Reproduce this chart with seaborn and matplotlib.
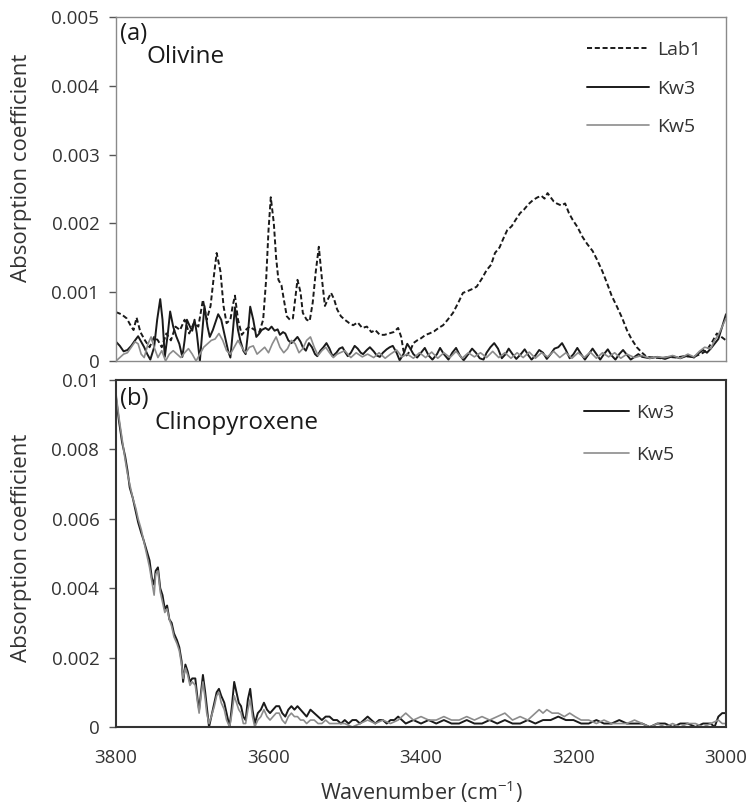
import numpy as np
import pandas as pd
import matplotlib
matplotlib.use("Agg")
import matplotlib.pyplot as plt
import seaborn as sns

# ---------------- data ----------------
lab1_wn = [3800, 3793, 3786, 3780, 3777, 3773, 3768, 3762, 3756, 3750, 3745, 3740, 3734, 3728, 3722,
           3716, 3710, 3704, 3698, 3692, 3686, 3681, 3676, 3672, 3668, 3663, 3659, 3655, 3650, 3647,
           3644, 3640, 3635, 3630, 3625, 3618, 3612, 3607, 3603, 3600, 3597, 3593, 3590, 3587, 3583,
           3580, 3576, 3572, 3568, 3565, 3562, 3558, 3555, 3550, 3546, 3542, 3538, 3534, 3530, 3526,
           3522, 3518, 3514, 3510, 3505, 3500, 3494, 3489, 3483, 3477, 3471, 3465, 3460, 3454, 3448,
           3442, 3436, 3430, 3426, 3423, 3419, 3414, 3410, 3405, 3400, 3394, 3389, 3383, 3377, 3371,
           3365, 3358, 3351, 3345, 3338, 3332, 3327, 3320, 3314, 3308, 3303, 3297, 3292, 3287, 3281,
           3276, 3270, 3265, 3259, 3253, 3247, 3242, 3238, 3234, 3230, 3226, 3222, 3216, 3211, 3206,
           3201, 3195, 3188, 3182, 3175, 3169, 3162, 3156, 3150, 3143, 3136, 3130, 3124, 3117, 3110,
           3104, 3095, 3085, 3075, 3065, 3055, 3045, 3038, 3030, 3025, 3018, 3012, 3006, 3000]
lab1_abs = [0.00071, 0.00068, 0.00062, 0.00050, 0.00045, 0.00063, 0.00042, 0.00030, 0.00020, 0.00035,
            0.00030, 0.00020, 0.00040, 0.00030, 0.00050, 0.00045, 0.00060, 0.00040, 0.00055, 0.00050,
            0.00089, 0.00060, 0.00080, 0.00120, 0.00157, 0.00130, 0.00080, 0.00055, 0.00060, 0.00080,
            0.00095, 0.00060, 0.00038, 0.00045, 0.00050, 0.00045, 0.00042, 0.00060, 0.00120, 0.00190,
            0.00238, 0.00200, 0.00150, 0.00118, 0.00110, 0.00090, 0.00065, 0.00060, 0.00062, 0.00090,
            0.00118, 0.00100, 0.00070, 0.00060, 0.00058, 0.00085, 0.00130, 0.00166, 0.00120, 0.00080,
            0.00090, 0.00099, 0.00090, 0.00075, 0.00065, 0.00060, 0.00055, 0.00052, 0.00056, 0.00048,
            0.00050, 0.00042, 0.00045, 0.00038, 0.00038, 0.00040, 0.00042, 0.00048, 0.00035, 0.00015,
            0.00008, 0.00015, 0.00026, 0.00030, 0.00033, 0.00038, 0.00040, 0.00043, 0.00048, 0.00052,
            0.00060, 0.00070, 0.00085, 0.00099, 0.00102, 0.00105, 0.00108, 0.00120, 0.00132, 0.00140,
            0.00157, 0.00165, 0.00178, 0.00190, 0.00196, 0.00205, 0.00215, 0.00220, 0.00228, 0.00234,
            0.00238, 0.00240, 0.00236, 0.00244, 0.00238, 0.00232, 0.00229, 0.00226, 0.00229, 0.00215,
            0.00205, 0.00195, 0.00180, 0.00170, 0.00160, 0.00147, 0.00130, 0.00113, 0.00095, 0.00079,
            0.00062, 0.00045, 0.00032, 0.00020, 0.00012, 0.00006, 0.00005, 0.00004, 0.00006, 0.00005,
            0.00007, 0.00006, 0.00008, 0.00012, 0.00016, 0.00028, 0.00040, 0.00035, 0.00030]

ol_kw3_wn = [3800, 3795, 3790, 3785, 3780, 3775, 3771, 3767, 3763, 3759, 3755, 3750, 3746, 3742, 3739,
             3736, 3732, 3729, 3725, 3721, 3717, 3713, 3710, 3707, 3703, 3700, 3697, 3694, 3690, 3687,
             3684, 3680, 3677, 3673, 3670, 3666, 3662, 3657, 3653, 3650, 3647, 3644, 3640, 3637, 3633,
             3630, 3627, 3624, 3620, 3616, 3612, 3609, 3604, 3600, 3596, 3592, 3588, 3585, 3581, 3578,
             3574, 3570, 3566, 3562, 3558, 3555, 3551, 3547, 3543, 3539, 3536, 3532, 3528, 3524, 3520,
             3516, 3511, 3507, 3503, 3499, 3496, 3492, 3487, 3483, 3479, 3476, 3471, 3467, 3462, 3458,
             3454, 3450, 3445, 3441, 3437, 3432, 3428, 3423, 3418, 3414, 3410, 3405, 3400, 3395, 3390,
             3385, 3379, 3375, 3370, 3364, 3359, 3354, 3349, 3344, 3338, 3333, 3328, 3323, 3318, 3314,
             3309, 3304, 3299, 3294, 3289, 3285, 3280, 3275, 3269, 3264, 3259, 3255, 3250, 3245, 3240,
             3235, 3230, 3225, 3220, 3215, 3210, 3205, 3200, 3195, 3190, 3185, 3180, 3175, 3170, 3165,
             3160, 3155, 3150, 3145, 3140, 3135, 3130, 3125, 3120, 3115, 3110, 3100, 3090, 3080, 3070,
             3060, 3050, 3042, 3035, 3030, 3025, 3020, 3015, 3010, 3005, 3000]
ol_kw3_abs = [0.00028, 0.00022, 0.00014, 0.00016, 0.00022, 0.00030, 0.00036, 0.00028, 0.00020, 0.00010,
              0.00002, 0.00020, 0.00060, 0.00090, 0.00060, 0.00006, 0.00040, 0.00072, 0.00050, 0.00036,
              0.00025, 0.00006, 0.00030, 0.00060, 0.00050, 0.00044, 0.00060, 0.00040, 0.00000, 0.00040,
              0.00080, 0.00050, 0.00035, 0.00045, 0.00055, 0.00068, 0.00060, 0.00035, 0.00015, 0.00005,
              0.00040, 0.00078, 0.00045, 0.00030, 0.00015, 0.00010, 0.00040, 0.00079, 0.00060, 0.00035,
              0.00040, 0.00045, 0.00048, 0.00045, 0.00050, 0.00044, 0.00046, 0.00038, 0.00042, 0.00040,
              0.00030, 0.00026, 0.00030, 0.00035, 0.00028, 0.00020, 0.00015, 0.00026, 0.00020, 0.00010,
              0.00007, 0.00015, 0.00020, 0.00026, 0.00018, 0.00007, 0.00012, 0.00018, 0.00020, 0.00012,
              0.00007, 0.00012, 0.00022, 0.00018, 0.00012, 0.00010, 0.00016, 0.00020, 0.00014, 0.00008,
              0.00006, 0.00012, 0.00017, 0.00020, 0.00022, 0.00012, 0.00001, 0.00010, 0.00025, 0.00018,
              0.00010, 0.00005, 0.00012, 0.00019, 0.00008, 0.00002, 0.00010, 0.00019, 0.00010, 0.00002,
              0.00012, 0.00019, 0.00008, 0.00001, 0.00010, 0.00018, 0.00012, 0.00004, 0.00002, 0.00012,
              0.00020, 0.00026, 0.00018, 0.00004, 0.00010, 0.00018, 0.00010, 0.00003, 0.00010, 0.00017,
              0.00008, 0.00002, 0.00008, 0.00016, 0.00012, 0.00003, 0.00010, 0.00018, 0.00020, 0.00026,
              0.00016, 0.00004, 0.00010, 0.00019, 0.00010, 0.00002, 0.00010, 0.00018, 0.00010, 0.00002,
              0.00010, 0.00017, 0.00008, 0.00002, 0.00010, 0.00016, 0.00009, 0.00002, 0.00006, 0.00010,
              0.00006, 0.00004, 0.00006, 0.00003, 0.00007, 0.00004, 0.00008, 0.00005, 0.00012, 0.00016,
              0.00012, 0.00018, 0.00025, 0.00032, 0.00050, 0.00068]

ol_kw5_wn = [3800, 3795, 3790, 3785, 3780, 3775, 3771, 3767, 3763, 3758, 3754, 3750, 3745, 3740, 3735,
             3730, 3725, 3720, 3715, 3710, 3705, 3700, 3695, 3690, 3685, 3680, 3675, 3670, 3665, 3660,
             3655, 3650, 3645, 3640, 3635, 3630, 3625, 3620, 3615, 3610, 3605, 3600, 3595, 3590, 3585,
             3580, 3575, 3570, 3565, 3560, 3555, 3550, 3545, 3540, 3535, 3530, 3525, 3520, 3515, 3510,
             3500, 3492, 3485, 3477, 3470, 3462, 3455, 3447, 3440, 3432, 3425, 3418, 3410, 3402, 3394,
             3386, 3378, 3370, 3362, 3354, 3346, 3338, 3330, 3322, 3314, 3306, 3298, 3290, 3282, 3274,
             3266, 3258, 3250, 3242, 3234, 3226, 3218, 3210, 3202, 3194, 3186, 3178, 3170, 3162, 3154,
             3146, 3138, 3130, 3120, 3110, 3100, 3090, 3080, 3070, 3060, 3050, 3042, 3035, 3028, 3020,
             3015, 3010, 3005, 3000]
ol_kw5_abs = [0.00000, 0.00005, 0.00010, 0.00012, 0.00020, 0.00028, 0.00025, 0.00010, 0.00005, 0.00025,
              0.00035, 0.00020, 0.00005, 0.00015, 0.00000, 0.00010, 0.00015, 0.00010, 0.00005, 0.00012,
              0.00018, 0.00010, 0.00000, 0.00010, 0.00020, 0.00025, 0.00030, 0.00032, 0.00040, 0.00030,
              0.00015, 0.00010, 0.00020, 0.00030, 0.00020, 0.00012, 0.00020, 0.00022, 0.00010, 0.00015,
              0.00020, 0.00012, 0.00025, 0.00035, 0.00020, 0.00012, 0.00018, 0.00030, 0.00025, 0.00012,
              0.00018, 0.00030, 0.00035, 0.00020, 0.00008, 0.00015, 0.00020, 0.00012, 0.00005, 0.00010,
              0.00015, 0.00005, 0.00012, 0.00006, 0.00010, 0.00005, 0.00012, 0.00004, 0.00010, 0.00016,
              0.00006, 0.00010, 0.00004, 0.00012, 0.00005, 0.00013, 0.00004, 0.00012, 0.00005, 0.00014,
              0.00004, 0.00012, 0.00006, 0.00012, 0.00005, 0.00014, 0.00005, 0.00012, 0.00004, 0.00012,
              0.00005, 0.00013, 0.00004, 0.00012, 0.00006, 0.00014, 0.00005, 0.00012, 0.00004, 0.00012,
              0.00005, 0.00013, 0.00004, 0.00012, 0.00006, 0.00012, 0.00004, 0.00010, 0.00005, 0.00008,
              0.00004, 0.00006, 0.00005, 0.00008, 0.00004, 0.00010, 0.00006, 0.00014, 0.00020, 0.00018,
              0.00030, 0.00038, 0.00050, 0.00062]

cpx_kw3_wn = [3800, 3796, 3792, 3788, 3785, 3782, 3778, 3774, 3771, 3767, 3764, 3760, 3756, 3753, 3750,
              3748, 3745, 3742, 3739, 3736, 3733, 3730, 3727, 3724, 3720, 3717, 3714, 3712, 3709, 3706,
              3703, 3700, 3696, 3693, 3691, 3688, 3686, 3683, 3681, 3678, 3675, 3671, 3668, 3665, 3662,
              3658, 3655, 3651, 3648, 3645, 3642, 3639, 3636, 3633, 3630, 3627, 3624, 3621, 3618, 3614,
              3610, 3606, 3602, 3598, 3594, 3590, 3586, 3582, 3578, 3574, 3570, 3566, 3562, 3558, 3554,
              3550, 3545, 3540, 3535, 3530, 3525, 3520, 3515, 3510, 3505, 3500, 3495, 3490, 3485, 3480,
              3475, 3470, 3465, 3460, 3455, 3450, 3445, 3440, 3435, 3430, 3425, 3420, 3410, 3400, 3390,
              3380, 3370, 3360, 3350, 3340, 3330, 3320, 3310, 3300, 3290, 3280, 3270, 3260, 3250, 3240,
              3230, 3220, 3210, 3200, 3190, 3180, 3170, 3160, 3150, 3140, 3130, 3120, 3110, 3100, 3090,
              3080, 3070, 3060, 3050, 3040, 3030, 3020, 3015, 3010, 3005, 3000]
cpx_kw3_abs = [0.0095, 0.0088, 0.0082, 0.0078, 0.0074, 0.0069, 0.0066, 0.0062, 0.0059, 0.0056, 0.0054,
               0.0051, 0.0048, 0.0043, 0.0041, 0.0045, 0.0046, 0.0040, 0.0038, 0.0034, 0.0035, 0.0031,
               0.0030, 0.0027, 0.0025, 0.0023, 0.0019, 0.0013, 0.0018, 0.0016, 0.0013, 0.0014, 0.0014,
               0.0008, 0.0005, 0.0011, 0.0015, 0.0010, 0.0006, 0.0000, 0.0003, 0.0007, 0.0010, 0.0011,
               0.0009, 0.0007, 0.0004, 0.0000, 0.0006, 0.0013, 0.0010, 0.0007, 0.0006, 0.0003, 0.0002,
               0.0008, 0.0011, 0.0005, 0.0001, 0.0004, 0.0005, 0.0007, 0.0005, 0.0004, 0.0005, 0.0006,
               0.0006, 0.0004, 0.0003, 0.0005, 0.0006, 0.0005, 0.0006, 0.0005, 0.0004, 0.0003, 0.0005,
               0.0004, 0.0003, 0.0002, 0.0003, 0.0003, 0.0002, 0.0002, 0.0001, 0.0002, 0.0001, 0.0002,
               0.0002, 0.0001, 0.0002, 0.0003, 0.0002, 0.0001, 0.0002, 0.0002, 0.0001, 0.0002, 0.0002,
               0.0003, 0.0002, 0.0001, 0.0002, 0.0001, 0.0002, 0.0001, 0.0002, 0.0001, 0.0001, 0.0002,
               0.0001, 0.0001, 0.0002, 0.0001, 0.0002, 0.0001, 0.0001, 0.0002, 0.0001, 0.0002, 0.0002,
               0.0003, 0.0002, 0.0002, 0.0001, 0.0001, 0.0002, 0.0001, 0.0001, 0.0002, 0.0001, 0.0001,
               0.0001, 0.0000, 0.0001, 0.0001, 0.0000, 0.0001, 0.0001, 0.0000, 0.0001, 0.0001, 0.0000,
               0.0003, 0.0004, 0.0004]

cpx_kw5_wn = [3800, 3796, 3792, 3788, 3785, 3782, 3778, 3774, 3771, 3767, 3764, 3760, 3756, 3753, 3750,
              3748, 3745, 3742, 3739, 3736, 3733, 3730, 3727, 3724, 3720, 3717, 3714, 3712, 3709, 3706,
              3703, 3700, 3696, 3693, 3691, 3688, 3686, 3683, 3681, 3678, 3675, 3671, 3668, 3665, 3662,
              3658, 3655, 3651, 3648, 3645, 3642, 3639, 3636, 3633, 3630, 3627, 3624, 3621, 3618, 3614,
              3610, 3606, 3602, 3598, 3594, 3590, 3586, 3582, 3578, 3574, 3570, 3566, 3562, 3558, 3554,
              3550, 3545, 3540, 3535, 3530, 3525, 3520, 3515, 3510, 3500, 3490, 3480, 3470, 3460, 3450,
              3440, 3430, 3420, 3410, 3400, 3390, 3380, 3370, 3360, 3350, 3340, 3330, 3320, 3310, 3300,
              3290, 3280, 3270, 3260, 3250, 3245, 3240, 3235, 3228, 3220, 3212, 3205, 3198, 3190, 3180,
              3170, 3160, 3150, 3140, 3130, 3120, 3110, 3100, 3090, 3080, 3070, 3060, 3050, 3040, 3030,
              3020, 3010, 3005, 3000]
cpx_kw5_abs = [0.0096, 0.0089, 0.0083, 0.0077, 0.0073, 0.0070, 0.0066, 0.0063, 0.0060, 0.0057, 0.0054,
               0.0050, 0.0046, 0.0042, 0.0038, 0.0044, 0.0045, 0.0039, 0.0036, 0.0033, 0.0034, 0.0031,
               0.0029, 0.0026, 0.0024, 0.0022, 0.0018, 0.0014, 0.0017, 0.0015, 0.0012, 0.0013, 0.0012,
               0.0007, 0.0004, 0.0010, 0.0013, 0.0008, 0.0004, 0.0001, 0.0003, 0.0006, 0.0009, 0.0010,
               0.0007, 0.0005, 0.0002, 0.0000, 0.0004, 0.0009, 0.0007, 0.0005, 0.0004, 0.0001, 0.0001,
               0.0005, 0.0008, 0.0003, 0.0000, 0.0002, 0.0003, 0.0005, 0.0003, 0.0002, 0.0003, 0.0004,
               0.0004, 0.0002, 0.0001, 0.0003, 0.0004, 0.0003, 0.0003, 0.0002, 0.0002, 0.0001, 0.0002,
               0.0002, 0.0001, 0.0001, 0.0002, 0.0001, 0.0001, 0.0001, 0.0001, 0.0000, 0.0001, 0.0002,
               0.0001, 0.0002, 0.0001, 0.0002, 0.0004, 0.0002, 0.0003, 0.0002, 0.0002, 0.0003, 0.0002,
               0.0002, 0.0003, 0.0002, 0.0003, 0.0002, 0.0003, 0.0004, 0.0002, 0.0003, 0.0002, 0.0004,
               0.0005, 0.0004, 0.0005, 0.0004, 0.0004, 0.0003, 0.0004, 0.0003, 0.0002, 0.0002, 0.0001,
               0.0002, 0.0001, 0.0001, 0.0001, 0.0002, 0.0001, 0.0000, 0.0001, 0.0000, 0.0001, 0.0000,
               0.0001, 0.0001, 0.0000, 0.0001, 0.0002, 0.0001, 0.0001]

x_ticks = [3800, 3600, 3400, 3200, 3000]
top_yticks = [0, 0.001, 0.002, 0.003, 0.004, 0.005]
top_ylabels = ["0", "0.001", "0.002", "0.003", "0.004", "0.005"]
bot_yticks = [0, 0.002, 0.004, 0.006, 0.008, 0.01]
bot_ylabels = ["0", "0.002", "0.004", "0.006", "0.008", "0.01"]

# ---------------- style ----------------
sns.set_theme(style="white")
plt.rcParams['font.family'] = ['Open Sans', 'DejaVu Sans']
plt.rcParams['mathtext.default'] = 'regular'

BLACK = "#1a1a1a"
GRAY = "#8c8c8c"
TXT = "#333333"
FS = 13.5
LFS = 14
YLFS = 16

fig = plt.figure(figsize=(7.51, 8.05), dpi=100)
ax1 = fig.add_axes([116/751, 1-361/805, 610/751, 344/805])
ax2 = fig.add_axes([116/751, 1-727/805, 610/751, 347/805])

# top panel: olivine
sns.lineplot(x=lab1_wn, y=lab1_abs, ax=ax1, color=BLACK, lw=1.4, label="Lab1",
             linestyle=(0, (2.6, 1.4)), sort=False, estimator=None)
sns.lineplot(x=ol_kw3_wn, y=ol_kw3_abs, ax=ax1, color=BLACK, lw=1.4, label="Kw3",
             sort=False, estimator=None)
sns.lineplot(x=ol_kw5_wn, y=ol_kw5_abs, ax=ax1, color=GRAY, lw=1.2, label="Kw5",
             sort=False, estimator=None)

# bottom panel: clinopyroxene
sns.lineplot(x=cpx_kw3_wn, y=cpx_kw3_abs, ax=ax2, color=BLACK, lw=1.4, label="Kw3",
             sort=False, estimator=None)
sns.lineplot(x=cpx_kw5_wn, y=cpx_kw5_abs, ax=ax2, color=GRAY, lw=1.2, label="Kw5",
             sort=False, estimator=None)

for ax, yt, yl, ymax, spc in [(ax1, top_yticks, top_ylabels, 0.005, "#8a8a8a"),
                              (ax2, bot_yticks, bot_ylabels, 0.01, "#333333")]:
    ax.set_xlim(3800, 3000)
    ax.set_ylim(0, ymax)
    ax.set_yticks(yt)
    ax.set_yticklabels(yl, fontsize=FS, color=TXT)
    ax.set_xticks(x_ticks)
    ax.tick_params(axis='y', which='both', left=True, length=5, width=1, color="#555555",
                   direction='out', pad=7)
    ax.tick_params(axis='x', length=0)
    for s in ax.spines.values():
        s.set_color(spc)
        s.set_linewidth(1.0 if ax is ax1 else 1.5)
    ax.set_ylabel("Absorption coefficient", fontsize=YLFS, color=TXT)

ax1.set_xticklabels([])
ax1.set_xlabel("")
ax2.set_xticklabels([str(t) for t in x_ticks], fontsize=FS, color=TXT)
ax2.tick_params(axis='x', pad=16)
ax2.set_xlabel("Wavenumber (cm$^{-1}$)", fontsize=15.5, color=TXT)
ax2.xaxis.set_label_coords(0.5, -0.148)
ax1.yaxis.set_label_coords(-0.137, 0.561)
ax2.yaxis.set_label_coords(-0.137, 0.516)

# panel labels
ax1.text(0.006, 0.985, "(a)", transform=ax1.transAxes, fontsize=17, va='top', ha='left', color=BLACK)
ax1.text(0.05, 0.918, "Olivine", transform=ax1.transAxes, fontsize=17.5, va='top', ha='left', color=BLACK)
ax2.text(0.006, 0.98, "(b)", transform=ax2.transAxes, fontsize=17, va='top', ha='left', color=BLACK)
ax2.text(0.063, 0.912, "Clinopyroxene", transform=ax2.transAxes, fontsize=17.5, va='top', ha='left', color=BLACK)

# legends
leg1 = ax1.legend(loc='upper left', bbox_to_anchor=(0.772, 0.93), frameon=False, fontsize=LFS,
                  handlelength=3.2, handletextpad=0.4, labelspacing=1.06, borderpad=0, borderaxespad=0)
leg2 = ax2.legend(loc='upper left', bbox_to_anchor=(0.767, 0.93), frameon=False, fontsize=LFS,
                  handlelength=2.3, handletextpad=0.4, labelspacing=1.2, borderpad=0, borderaxespad=0)
for leg in (leg1, leg2):
    for t in leg.get_texts():
        t.set_color(TXT)

fig.savefig("out.png", dpi=100)
